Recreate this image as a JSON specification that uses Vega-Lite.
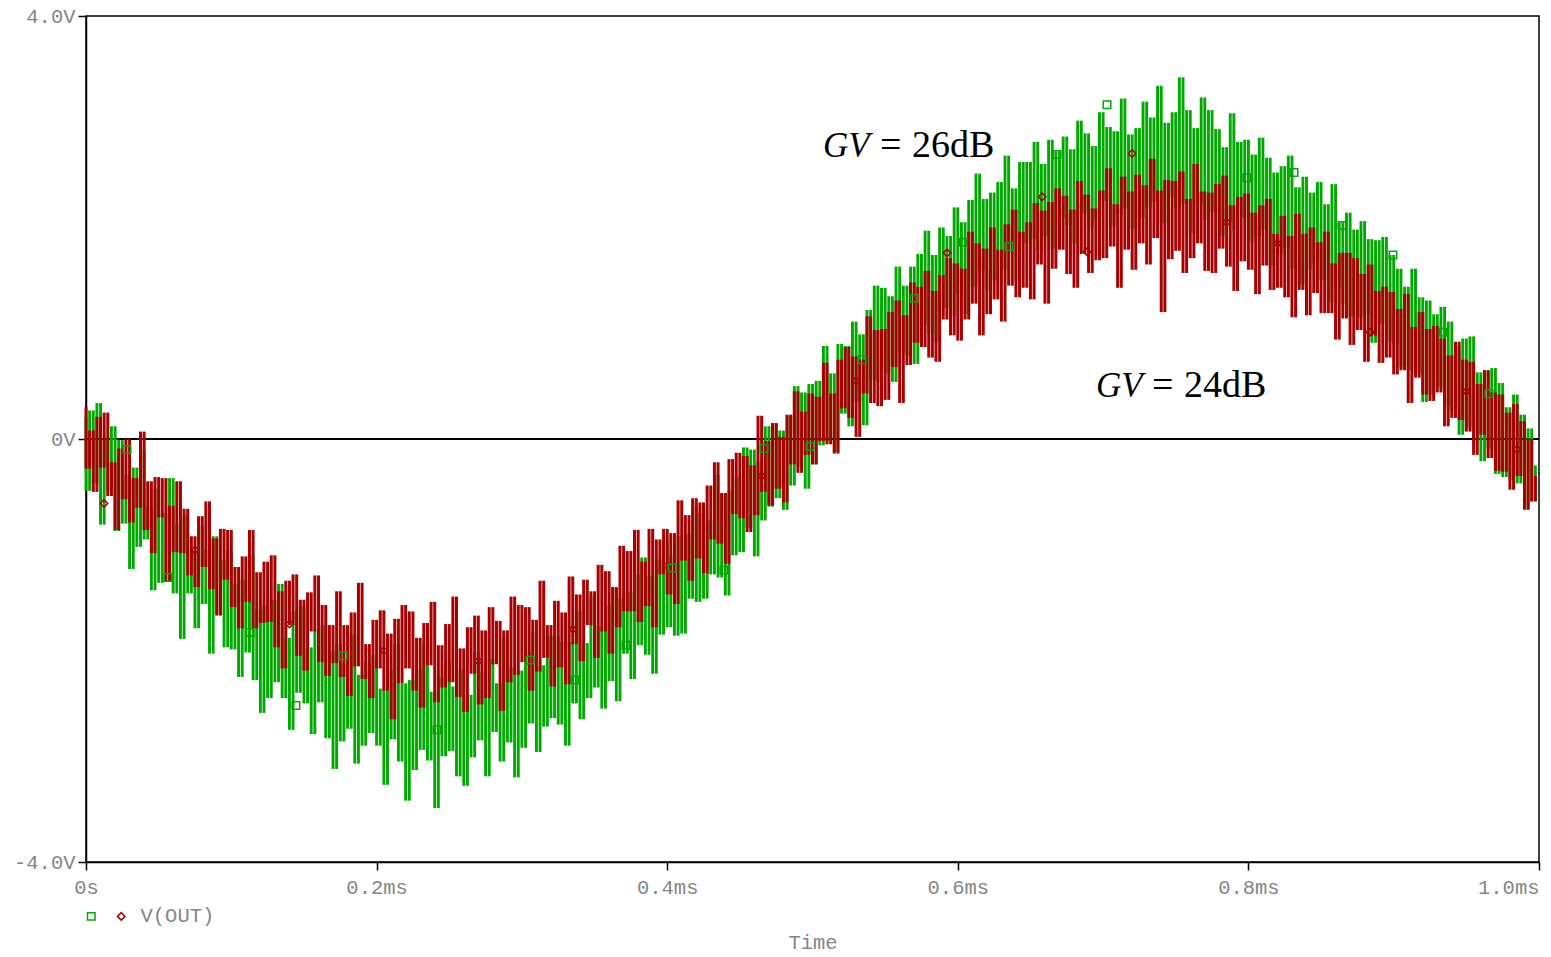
{
"$schema":"https://vega.github.io/schema/vega-lite/v6.json",
"width":1453,"height":846,
"autosize":{"type":"none"},
"padding":{"left":86,"top":16,"right":12,"bottom":95},
"background":"white",
"config":{
"view":{"stroke":"black","strokeWidth":1.5},
"axis":{"labelFont":"Liberation Mono","labelFontSize":20.5,"labelColor":"#858585","domainColor":"black","tickColor":"black","domainWidth":1.5,"tickWidth":1.5,"grid":false,"titleFont":"Liberation Mono","titleFontSize":20.5,"titleColor":"#858585","titleFontWeight":"normal"},
"legend":{"orient":"none","legendX":-5,"legendY":890,"direction":"horizontal","labelFont":"Liberation Mono","labelFontSize":20.5,"labelColor":"#858585","symbolSize":56,"symbolStrokeWidth":1.5,"labelOffset":9,"columnPadding":0,"padding":0}
},
"datasets":{
"wave":[
{"t":0,"g":0.20,"r":0.30},{"t":0.0025,"g":-0.49,"r":-0.28},{"t":0.005,"g":0.27,"r":0.08},{"t":0.0075,"g":-0.42,"r":-0.50},{"t":0.01,"g":0.34,"r":0.21},{"t":0.0125,"g":-0.81,"r":-0.27},{"t":0.015,"g":0.00,"r":0.25},{"t":0.0175,"g":-0.49,"r":-0.54},{"t":0.02,"g":0.12,"r":-0.22},{"t":0.0225,"g":-0.87,"r":-0.86},
{"t":0.025,"g":-0.01,"r":-0.09},{"t":0.0275,"g":-0.80,"r":-0.57},{"t":0.03,"g":-0.34,"r":0.00},{"t":0.0325,"g":-1.23,"r":-0.79},{"t":0.035,"g":-0.27,"r":-0.37},{"t":0.0375,"g":-1.02,"r":-0.65},{"t":0.04,"g":-0.11,"r":0.07},{"t":0.0425,"g":-0.95,"r":-0.86},{"t":0.045,"g":-0.64,"r":-0.40},{"t":0.0475,"g":-1.43,"r":-1.08},
{"t":0.05,"g":-0.47,"r":-0.36},{"t":0.0525,"g":-1.36,"r":-0.74},{"t":0.055,"g":-0.70,"r":-0.37},{"t":0.0575,"g":-1.28,"r":-1.35},{"t":0.06,"g":-0.37,"r":-0.63},{"t":0.0625,"g":-1.46,"r":-1.07},{"t":0.065,"g":-0.80,"r":-0.40},{"t":0.0675,"g":-1.89,"r":-1.08},{"t":0.07,"g":-0.72,"r":-0.66},{"t":0.0725,"g":-1.46,"r":-1.29},
{"t":0.075,"g":-1.05,"r":-0.92},{"t":0.0775,"g":-1.79,"r":-1.40},{"t":0.08,"g":-0.82,"r":-0.73},{"t":0.0825,"g":-1.56,"r":-1.21},{"t":0.085,"g":-1.04,"r":-0.59},{"t":0.0875,"g":-2.03,"r":-1.42},{"t":0.09,"g":-0.92,"r":-0.94},{"t":0.0925,"g":-1.65,"r":-1.67},{"t":0.095,"g":-1.14,"r":-0.85},{"t":0.0975,"g":-1.97,"r":-1.33},
{"t":0.1,"g":-1.06,"r":-0.86},{"t":0.1025,"g":-1.99,"r":-1.59},{"t":0.105,"g":-1.37,"r":-1.21},{"t":0.1075,"g":-2.25,"r":-1.79},{"t":0.11,"g":-1.33,"r":-1.11},{"t":0.1125,"g":-2.02,"r":-1.54},{"t":0.115,"g":-1.10,"r":-0.86},{"t":0.1175,"g":-2.28,"r":-1.79},{"t":0.12,"g":-1.61,"r":-1.26},{"t":0.1225,"g":-2.59,"r":-1.74},
{"t":0.125,"g":-1.57,"r":-1.16},{"t":0.1275,"g":-2.45,"r":-1.73},{"t":0.13,"g":-1.52,"r":-1.10},{"t":0.1325,"g":-2.30,"r":-1.97},{"t":0.135,"g":-1.37,"r":-1.44},{"t":0.1375,"g":-2.45,"r":-2.17},{"t":0.14,"g":-1.88,"r":-1.34},{"t":0.1425,"g":-2.75,"r":-1.76},{"t":0.145,"g":-1.63,"r":-1.28},{"t":0.1475,"g":-2.40,"r":-2.05},
{"t":0.15,"g":-1.58,"r":-1.52},{"t":0.1525,"g":-2.50,"r":-2.19},{"t":0.155,"g":-1.97,"r":-1.45},{"t":0.1575,"g":-2.79,"r":-1.82},{"t":0.16,"g":-1.81,"r":-1.29},{"t":0.1625,"g":-2.49,"r":-2.11},{"t":0.165,"g":-1.76,"r":-1.57},{"t":0.1675,"g":-2.83,"r":-2.24},{"t":0.17,"g":-2.00,"r":-1.76},{"t":0.1725,"g":-3.12,"r":-2.12},
{"t":0.175,"g":-1.94,"r":-1.44},{"t":0.1775,"g":-2.86,"r":-2.25},{"t":0.18,"g":-2.12,"r":-1.76},{"t":0.1825,"g":-2.74,"r":-2.43},{"t":0.185,"g":-1.85,"r":-1.64},{"t":0.1875,"g":-3.07,"r":-2.15},{"t":0.19,"g":-2.23,"r":-1.36},{"t":0.1925,"g":-2.90,"r":-2.27},{"t":0.195,"g":-2.11,"r":-1.94},{"t":0.1975,"g":-2.78,"r":-2.45},
{"t":0.2,"g":-2.04,"r":-1.71},{"t":0.2025,"g":-2.90,"r":-2.17},{"t":0.205,"g":-2.36,"r":-1.62},{"t":0.2075,"g":-3.27,"r":-2.38},{"t":0.21,"g":-2.18,"r":-1.84},{"t":0.2125,"g":-2.84,"r":-2.65},{"t":0.215,"g":-1.94,"r":-1.70},{"t":0.2175,"g":-3.05,"r":-2.31},{"t":0.22,"g":-2.31,"r":-1.57},{"t":0.2225,"g":-3.42,"r":-2.17},
{"t":0.225,"g":-2.28,"r":-1.63},{"t":0.2275,"g":-3.13,"r":-2.38},{"t":0.23,"g":-2.18,"r":-1.88},{"t":0.2325,"g":-2.94,"r":-2.54},{"t":0.235,"g":-1.94,"r":-1.74},{"t":0.2375,"g":-3.04,"r":-2.14},{"t":0.24,"g":-2.39,"r":-1.54},{"t":0.2425,"g":-3.49,"r":-2.49},{"t":0.245,"g":-2.25,"r":-1.95},{"t":0.2475,"g":-3.00,"r":-2.35},
{"t":0.25,"g":-2.10,"r":-1.75},{"t":0.2525,"g":-2.95,"r":-2.30},{"t":0.255,"g":-2.34,"r":-1.49},{"t":0.2575,"g":-3.19,"r":-2.44},{"t":0.26,"g":-2.18,"r":-1.98},{"t":0.2625,"g":-3.28,"r":-2.58},{"t":0.265,"g":-2.42,"r":-1.78},{"t":0.2675,"g":-3.01,"r":-2.22},{"t":0.27,"g":-2.01,"r":-1.67},{"t":0.2725,"g":-2.85,"r":-2.51},
{"t":0.275,"g":-2.20,"r":-1.81},{"t":0.2775,"g":-3.19,"r":-2.45},{"t":0.28,"g":-2.08,"r":-1.59},{"t":0.2825,"g":-2.77,"r":-2.13},{"t":0.285,"g":-2.31,"r":-1.72},{"t":0.2875,"g":-3.05,"r":-2.57},{"t":0.29,"g":-1.88,"r":-1.81},{"t":0.2925,"g":-2.87,"r":-2.30},{"t":0.295,"g":-2.16,"r":-1.49},{"t":0.2975,"g":-3.20,"r":-2.23},
{"t":0.3,"g":-2.19,"r":-1.57},{"t":0.3025,"g":-2.92,"r":-2.11},{"t":0.305,"g":-2.01,"r":-1.59},{"t":0.3075,"g":-2.69,"r":-2.38},{"t":0.31,"g":-1.82,"r":-1.71},{"t":0.3125,"g":-2.96,"r":-2.20},{"t":0.315,"g":-2.14,"r":-1.34},{"t":0.3175,"g":-2.72,"r":-2.07},{"t":0.32,"g":-1.86,"r":-1.76},{"t":0.3225,"g":-2.64,"r":-2.34},
{"t":0.325,"g":-1.87,"r":-1.53},{"t":0.3275,"g":-2.70,"r":-2.16},{"t":0.33,"g":-1.92,"r":-1.64},{"t":0.3325,"g":-2.90,"r":-2.32},{"t":0.335,"g":-1.92,"r":-1.30},{"t":0.3375,"g":-2.50,"r":-1.94},{"t":0.34,"g":-1.63,"r":-1.47},{"t":0.3425,"g":-2.65,"r":-2.10},{"t":0.345,"g":-1.93,"r":-1.33},{"t":0.3475,"g":-2.45,"r":-1.76},
{"t":0.35,"g":-1.48,"r":-1.44},{"t":0.3525,"g":-2.35,"r":-2.07},{"t":0.355,"g":-1.77,"r":-1.19},{"t":0.3575,"g":-2.55,"r":-1.82},{"t":0.36,"g":-1.57,"r":-1.25},{"t":0.3625,"g":-2.29,"r":-2.03},{"t":0.365,"g":-1.41,"r":-1.40},{"t":0.3675,"g":-2.48,"r":-1.78},{"t":0.37,"g":-1.51,"r":-1.01},{"t":0.3725,"g":-2.03,"r":-1.63},
{"t":0.375,"g":-1.45,"r":-1.06},{"t":0.3775,"g":-2.27,"r":-1.63},{"t":0.38,"g":-1.28,"r":-0.86},{"t":0.3825,"g":-1.95,"r":-1.73},{"t":0.385,"g":-1.12,"r":-1.16},{"t":0.3875,"g":-2.04,"r":-1.58},{"t":0.39,"g":-1.30,"r":-0.85},{"t":0.3925,"g":-2.22,"r":-1.78},{"t":0.395,"g":-1.14,"r":-0.95},{"t":0.3975,"g":-1.85,"r":-1.28},
{"t":0.4,"g":-0.97,"r":-0.85},{"t":0.4025,"g":-1.78,"r":-1.47},{"t":0.405,"g":-1.10,"r":-0.89},{"t":0.4075,"g":-1.86,"r":-1.56},{"t":0.41,"g":-0.92,"r":-0.58},{"t":0.4125,"g":-1.84,"r":-1.15},{"t":0.415,"g":-0.90,"r":-0.72},{"t":0.4175,"g":-1.51,"r":-1.34},{"t":0.42,"g":-0.63,"r":-0.56},{"t":0.4225,"g":-1.54,"r":-1.13},
{"t":0.425,"g":-0.70,"r":-0.60},{"t":0.4275,"g":-1.51,"r":-1.27},{"t":0.43,"g":-0.77,"r":-0.44},{"t":0.4325,"g":-1.28,"r":-0.95},{"t":0.435,"g":-0.34,"r":-0.22},{"t":0.4375,"g":-1.31,"r":-0.99},{"t":0.44,"g":-0.52,"r":-0.51},{"t":0.4425,"g":-1.48,"r":-1.18},{"t":0.445,"g":-0.49,"r":-0.19},{"t":0.4475,"g":-1.10,"r":-0.71},
{"t":0.45,"g":-0.36,"r":-0.13},{"t":0.4525,"g":-1.07,"r":-0.75},{"t":0.455,"g":-0.08,"r":-0.16},{"t":0.4575,"g":-0.84,"r":-0.88},{"t":0.46,"g":-0.10,"r":-0.25},{"t":0.4625,"g":-1.11,"r":-0.72},{"t":0.465,"g":-0.21,"r":0.22},{"t":0.4675,"g":-0.77,"r":-0.50},{"t":0.47,"g":0.12,"r":-0.02},{"t":0.4725,"g":-0.64,"r":-0.63},
{"t":0.475,"g":0.15,"r":0.15},{"t":0.4775,"g":-0.56,"r":-0.47},{"t":0.48,"g":0.08,"r":0.02},{"t":0.4825,"g":-0.67,"r":-0.60},{"t":0.485,"g":0.22,"r":0.23},{"t":0.4875,"g":-0.44,"r":-0.24},{"t":0.49,"g":0.50,"r":0.45},{"t":0.4925,"g":-0.26,"r":-0.32},{"t":0.495,"g":0.44,"r":0.26},{"t":0.4975,"g":-0.47,"r":-0.15},
{"t":0.5,"g":0.52,"r":0.43},{"t":0.5025,"g":-0.24,"r":-0.24},{"t":0.505,"g":0.55,"r":0.40},{"t":0.5075,"g":-0.06,"r":-0.02},{"t":0.51,"g":0.88,"r":0.72},{"t":0.5125,"g":-0.02,"r":-0.05},{"t":0.515,"g":0.62,"r":0.43},{"t":0.5175,"g":-0.14,"r":-0.13},{"t":0.52,"g":0.90,"r":0.75},{"t":0.5225,"g":0.24,"r":0.29},
{"t":0.525,"g":0.88,"r":0.87},{"t":0.5275,"g":0.12,"r":0.20},{"t":0.53,"g":1.11,"r":0.78},{"t":0.5325,"g":0.35,"r":0.02},{"t":0.535,"g":0.99,"r":0.75},{"t":0.5375,"g":0.13,"r":0.43},{"t":0.54,"g":1.22,"r":1.16},{"t":0.5425,"g":0.56,"r":0.34},{"t":0.545,"g":1.45,"r":1.03},{"t":0.5475,"g":0.54,"r":0.31},
{"t":0.55,"g":1.43,"r":1.04},{"t":0.5525,"g":0.62,"r":0.37},{"t":0.555,"g":1.35,"r":1.20},{"t":0.5575,"g":0.54,"r":0.68},{"t":0.56,"g":1.63,"r":1.31},{"t":0.5625,"g":0.82,"r":0.34},{"t":0.565,"g":1.45,"r":1.17},{"t":0.5675,"g":0.79,"r":0.70},{"t":0.57,"g":1.63,"r":1.48},{"t":0.5725,"g":0.71,"r":0.91},
{"t":0.575,"g":1.75,"r":1.44},{"t":0.5775,"g":1.08,"r":0.87},{"t":0.58,"g":1.97,"r":1.59},{"t":0.5825,"g":1.00,"r":0.77},{"t":0.585,"g":1.74,"r":1.40},{"t":0.5875,"g":0.92,"r":0.73},{"t":0.59,"g":2.00,"r":1.55},{"t":0.5925,"g":1.24,"r":1.13},{"t":0.595,"g":1.92,"r":1.71},{"t":0.5975,"g":1.16,"r":0.98},
{"t":0.6,"g":2.19,"r":1.66},{"t":0.6025,"g":1.37,"r":0.93},{"t":0.605,"g":2.05,"r":1.61},{"t":0.6075,"g":1.18,"r":1.13},{"t":0.61,"g":2.26,"r":1.96},{"t":0.6125,"g":1.44,"r":1.28},{"t":0.615,"g":2.51,"r":1.85},{"t":0.6175,"g":1.59,"r":0.98},{"t":0.62,"g":2.27,"r":1.80},{"t":0.6225,"g":1.40,"r":1.18},
{"t":0.625,"g":2.33,"r":2.00},{"t":0.6275,"g":1.50,"r":1.32},{"t":0.63,"g":2.43,"r":1.79},{"t":0.6325,"g":1.60,"r":1.11},{"t":0.635,"g":2.68,"r":2.03},{"t":0.6375,"g":1.80,"r":1.45},{"t":0.64,"g":2.37,"r":2.17},{"t":0.6425,"g":1.50,"r":1.34},{"t":0.645,"g":2.62,"r":1.96},{"t":0.6475,"g":1.85,"r":1.43},
{"t":0.65,"g":2.62,"r":2.05},{"t":0.6525,"g":1.89,"r":1.32},{"t":0.655,"g":2.81,"r":2.23},{"t":0.6575,"g":1.78,"r":1.65},{"t":0.66,"g":2.60,"r":2.16},{"t":0.6625,"g":1.92,"r":1.28},{"t":0.665,"g":2.83,"r":2.24},{"t":0.6675,"g":1.80,"r":1.61},{"t":0.67,"g":2.72,"r":2.37},{"t":0.6725,"g":2.09,"r":1.79},
{"t":0.675,"g":2.86,"r":2.30},{"t":0.6775,"g":2.02,"r":1.56},{"t":0.68,"g":2.74,"r":2.17},{"t":0.6825,"g":1.85,"r":1.43},{"t":0.685,"g":3.01,"r":2.44},{"t":0.6875,"g":2.13,"r":1.75},{"t":0.69,"g":2.89,"r":2.31},{"t":0.6925,"g":2.00,"r":1.57},{"t":0.695,"g":2.77,"r":2.18},{"t":0.6975,"g":2.08,"r":1.69},
{"t":0.7,"g":3.09,"r":2.35},{"t":0.7025,"g":2.25,"r":1.71},{"t":0.705,"g":2.95,"r":2.56},{"t":0.7075,"g":2.01,"r":1.82},{"t":0.71,"g":2.91,"r":2.22},{"t":0.7125,"g":2.12,"r":1.43},{"t":0.715,"g":3.22,"r":2.48},{"t":0.7175,"g":2.18,"r":1.79},{"t":0.72,"g":2.88,"r":2.34},{"t":0.7225,"g":1.99,"r":1.60},
{"t":0.725,"g":2.94,"r":2.50},{"t":0.7275,"g":2.09,"r":1.85},{"t":0.73,"g":3.19,"r":2.40},{"t":0.7325,"g":2.19,"r":1.65},{"t":0.735,"g":3.04,"r":2.65},{"t":0.7375,"g":2.24,"r":1.90},{"t":0.74,"g":3.34,"r":2.35},{"t":0.7425,"g":2.04,"r":1.20},{"t":0.745,"g":2.99,"r":2.45},{"t":0.7475,"g":2.29,"r":1.70},
{"t":0.75,"g":3.09,"r":2.44},{"t":0.7525,"g":2.18,"r":1.78},{"t":0.755,"g":3.42,"r":2.53},{"t":0.7575,"g":2.22,"r":1.57},{"t":0.76,"g":3.11,"r":2.27},{"t":0.7625,"g":1.95,"r":1.71},{"t":0.765,"g":2.94,"r":2.60},{"t":0.7675,"g":2.23,"r":1.85},{"t":0.77,"g":3.23,"r":2.34},{"t":0.7725,"g":2.07,"r":1.59},
{"t":0.775,"g":3.11,"r":2.33},{"t":0.7775,"g":2.15,"r":1.57},{"t":0.78,"g":2.93,"r":2.41},{"t":0.7825,"g":1.92,"r":1.80},{"t":0.785,"g":2.76,"r":2.49},{"t":0.7875,"g":2.05,"r":1.63},{"t":0.79,"g":3.08,"r":2.21},{"t":0.7925,"g":1.97,"r":1.40},{"t":0.795,"g":2.81,"r":2.29},{"t":0.7975,"g":2.09,"r":1.68},
{"t":0.8,"g":2.83,"r":2.32},{"t":0.8025,"g":1.86,"r":1.60},{"t":0.805,"g":2.69,"r":2.14},{"t":0.8075,"g":1.92,"r":1.37},{"t":0.81,"g":2.85,"r":2.21},{"t":0.8125,"g":1.98,"r":1.64},{"t":0.815,"g":2.66,"r":2.27},{"t":0.8175,"g":1.64,"r":1.41},{"t":0.82,"g":2.52,"r":1.94},{"t":0.8225,"g":1.75,"r":1.43},
{"t":0.825,"g":2.58,"r":2.11},{"t":0.8275,"g":1.81,"r":1.34},{"t":0.83,"g":2.68,"r":1.92},{"t":0.8325,"g":1.61,"r":1.15},{"t":0.835,"g":2.38,"r":2.13},{"t":0.8375,"g":1.46,"r":1.41},{"t":0.84,"g":2.48,"r":1.94},{"t":0.8425,"g":1.61,"r":1.17},{"t":0.845,"g":2.33,"r":2.00},{"t":0.8475,"g":1.66,"r":1.38},
{"t":0.85,"g":2.43,"r":1.86},{"t":0.8525,"g":1.50,"r":1.19},{"t":0.855,"g":2.22,"r":1.96},{"t":0.8575,"g":1.29,"r":1.19},{"t":0.86,"g":2.41,"r":1.66},{"t":0.8625,"g":1.43,"r":0.94},{"t":0.865,"g":2.05,"r":1.76},{"t":0.8675,"g":1.27,"r":1.14},{"t":0.87,"g":2.14,"r":1.76},{"t":0.8725,"g":1.16,"r":0.89},
{"t":0.875,"g":1.98,"r":1.71},{"t":0.8775,"g":1.15,"r":1.03},{"t":0.88,"g":2.06,"r":1.56},{"t":0.8825,"g":1.18,"r":0.73},{"t":0.885,"g":1.89,"r":1.65},{"t":0.8875,"g":0.91,"r":0.98},{"t":0.89,"g":1.88,"r":1.40},{"t":0.8925,"g":1.09,"r":0.72},{"t":0.895,"g":1.91,"r":1.44},{"t":0.8975,"g":0.92,"r":0.77},
{"t":0.9,"g":1.74,"r":1.39},{"t":0.9025,"g":0.90,"r":0.61},{"t":0.905,"g":1.61,"r":1.23},{"t":0.9075,"g":0.68,"r":0.65},{"t":0.91,"g":1.44,"r":1.37},{"t":0.9125,"g":0.65,"r":0.34},{"t":0.915,"g":1.61,"r":1.06},{"t":0.9175,"g":0.62,"r":0.58},{"t":0.92,"g":1.34,"r":1.20},{"t":0.9225,"g":0.35,"r":0.42},
{"t":0.925,"g":1.31,"r":1.04},{"t":0.9275,"g":0.42,"r":0.36},{"t":0.93,"g":1.18,"r":1.07},{"t":0.9325,"g":0.49,"r":0.44},{"t":0.935,"g":1.25,"r":0.95},{"t":0.9375,"g":0.31,"r":0.12},{"t":0.94,"g":1.11,"r":0.79},{"t":0.9425,"g":0.27,"r":0.20},{"t":0.945,"g":0.88,"r":0.92},{"t":0.9475,"g":0.04,"r":0.18},
{"t":0.95,"g":0.95,"r":0.75},{"t":0.9525,"g":0.11,"r":0.07},{"t":0.955,"g":0.97,"r":0.73},{"t":0.9575,"g":-0.03,"r":-0.15},{"t":0.96,"g":0.63,"r":0.52},{"t":0.9625,"g":-0.21,"r":0.04},{"t":0.965,"g":0.65,"r":0.65},{"t":0.9675,"g":-0.09,"r":-0.18},{"t":0.97,"g":0.67,"r":0.44},{"t":0.9725,"g":-0.33,"r":-0.30},
{"t":0.975,"g":0.53,"r":0.42},{"t":0.9775,"g":-0.36,"r":-0.31},{"t":0.98,"g":0.30,"r":0.25},{"t":0.9825,"g":-0.39,"r":-0.48},{"t":0.985,"g":0.42,"r":0.33},{"t":0.9875,"g":-0.42,"r":-0.35},{"t":0.99,"g":0.23,"r":0.17},{"t":0.9925,"g":-0.66,"r":-0.67},{"t":0.995,"g":0.10,"r":0.00},{"t":0.9975,"g":-0.59,"r":-0.59},
{"t":1,"g":-0.25,"r":-0.35}
],
"marks":[
{"t":0.0282,"v":-0.10,"s":"g"},{"t":0.0564,"v":-1.31,"s":"g"},{"t":0.113,"v":-1.83,"s":"g"},{"t":0.1445,"v":-2.52,"s":"g"},{"t":0.1769,"v":-2.05,"s":"g"},{"t":0.2416,"v":-2.75,"s":"g"},{"t":0.3056,"v":-2.09,"s":"g"},{"t":0.3365,"v":-2.28,"s":"g"},{"t":0.3717,"v":-1.95,"s":"g"},{"t":0.4033,"v":-1.22,"s":"g"},{"t":0.4391,"v":-1.24,"s":"g"},{"t":0.4666,"v":-0.09,"s":"g"},{"t":0.4983,"v":-0.07,"s":"g"},{"t":0.5341,"v":0.75,"s":"g"},{"t":0.5699,"v":1.33,"s":"g"},{"t":0.6036,"v":1.86,"s":"g"},{"t":0.6352,"v":1.82,"s":"g"},{"t":0.6683,"v":2.69,"s":"g"},{"t":0.7027,"v":3.16,"s":"g"},{"t":0.799,"v":2.47,"s":"g"},{"t":0.8314,"v":2.52,"s":"g"},{"t":0.8644,"v":2.02,"s":"g"},{"t":0.8995,"v":1.74,"s":"g"},{"t":0.934,"v":1.01,"s":"g"},{"t":0.9656,"v":0.43,"s":"g"},
{"t":0.0124,"v":-0.61,"s":"r"},{"t":0.075,"v":-1.05,"s":"r"},{"t":0.14,"v":-1.75,"s":"r"},{"t":0.205,"v":-2.0,"s":"r"},{"t":0.27,"v":-2.1,"s":"r"},{"t":0.335,"v":-1.8,"s":"r"},{"t":0.4,"v":-1.2,"s":"r"},{"t":0.465,"v":-0.35,"s":"r"},{"t":0.53,"v":0.55,"s":"r"},{"t":0.5926,"v":1.76,"s":"r"},{"t":0.658,"v":2.29,"s":"r"},{"t":0.6889,"v":1.77,"s":"r"},{"t":0.72,"v":2.70,"s":"r"},{"t":0.785,"v":2.05,"s":"r"},{"t":0.82,"v":1.85,"s":"r"},{"t":0.8837,"v":1.01,"s":"r"},{"t":0.95,"v":0.45,"s":"r"},{"t":0.985,"v":-0.10,"s":"r"}
],
"notes":[
{"t":0.5072,"v":2.667,"txt":"GV","k":"i"},{"t":0.5465,"v":2.667,"txt":"=","k":"n"},{"t":0.5685,"v":2.667,"txt":"26dB","k":"n"},
{"t":0.6951,"v":0.40,"txt":"GV","k":"i"},{"t":0.7337,"v":0.40,"txt":"=","k":"n"},{"t":0.7557,"v":0.40,"txt":"24dB","k":"n"}
]
},
"layer":[
{"data":{"name":"wave"},"mark":{"type":"rule","color":"black","strokeWidth":1.5},
 "encoding":{"y":{"datum":0,"type":"quantitative"}}},
{"data":{"name":"wave"},
 "transform":[{"window":[{"op":"lead","field":"g","as":"g2"}],"sort":[{"field":"t"}]},{"filter":"isValid(datum.g2)"}],
 "mark":{"type":"rule","color":"#00a800","strokeWidth":2.9},
 "encoding":{
  "x":{"field":"t","type":"quantitative","scale":{"domain":[0,1],"nice":false,"zero":false},
   "axis":{"values":[0,0.2,0.4,0.6,0.8,1.0],"labelExpr":"datum.value == 0 ? '0s' : format(datum.value, '.1f') + 'ms'","tickSize":8,"labelPadding":7,"labelOverlap":false,"labelBound":false,"labelAlign":{"condition":{"test":"datum.value == 1","value":"right"},"value":"center"},"title":"Time","titlePadding":35}},
  "y":{"field":"g","type":"quantitative","scale":{"domain":[-4,4],"nice":false,"zero":false},
   "axis":{"values":[-4,0,4],"labelExpr":"datum.value == 4 ? '4.0V' : datum.value == 0 ? '0V' : '-4.0V'","tickSize":8,"labelPadding":3,"labelOverlap":false,"title":null}},
  "y2":{"field":"g2"}
 }},
{"data":{"name":"wave"},
 "transform":[{"window":[{"op":"lead","field":"r","as":"r2"}],"sort":[{"field":"t"}]},{"filter":"isValid(datum.r2)"}],
 "mark":{"type":"rule","color":"#a80000","strokeWidth":3.0},
 "encoding":{"x":{"field":"t","type":"quantitative"},"y":{"field":"r","type":"quantitative"},"y2":{"field":"r2"}}},
{"data":{"name":"marks"},"transform":[{"filter":"datum.s == 'r'"}],
 "mark":{"type":"point","filled":false,"size":56,"strokeWidth":1.5,"opacity":1},
 "encoding":{
  "x":{"field":"t","type":"quantitative"},
  "y":{"field":"v","type":"quantitative"},
  "color":{"field":"s","type":"nominal"},
  "shape":{"field":"s","type":"nominal"}
 }},
{"data":{"name":"marks"},"transform":[{"filter":"datum.s == 'g'"}],
 "mark":{"type":"point","filled":false,"size":56,"strokeWidth":1.5,"opacity":1},
 "encoding":{
  "x":{"field":"t","type":"quantitative"},
  "y":{"field":"v","type":"quantitative"},
  "color":{"field":"s","type":"nominal","scale":{"domain":["g","r"],"range":["#00a800","#a80000"]},"legend":{"title":null,"labelExpr":"datum.value == 'r' ? 'V(OUT)' : ''"}},
  "shape":{"field":"s","type":"nominal","scale":{"domain":["g","r"],"range":["square","diamond"]},"legend":{"title":null,"labelExpr":"datum.value == 'r' ? 'V(OUT)' : ''"}}
 }},
{"data":{"name":"notes"},"transform":[{"filter":"datum.k == 'i'"}],
 "mark":{"type":"text","font":"Liberation Serif","fontSize":35,"fontStyle":"italic","color":"black","align":"left","baseline":"alphabetic"},
 "encoding":{"x":{"field":"t","type":"quantitative"},"y":{"field":"v","type":"quantitative"},"text":{"field":"txt"}}},
{"data":{"name":"notes"},"transform":[{"filter":"datum.k == 'n'"}],
 "mark":{"type":"text","font":"Liberation Serif","fontSize":38,"color":"black","align":"left","baseline":"alphabetic"},
 "encoding":{"x":{"field":"t","type":"quantitative"},"y":{"field":"v","type":"quantitative"},"text":{"field":"txt"}}}
]
}
